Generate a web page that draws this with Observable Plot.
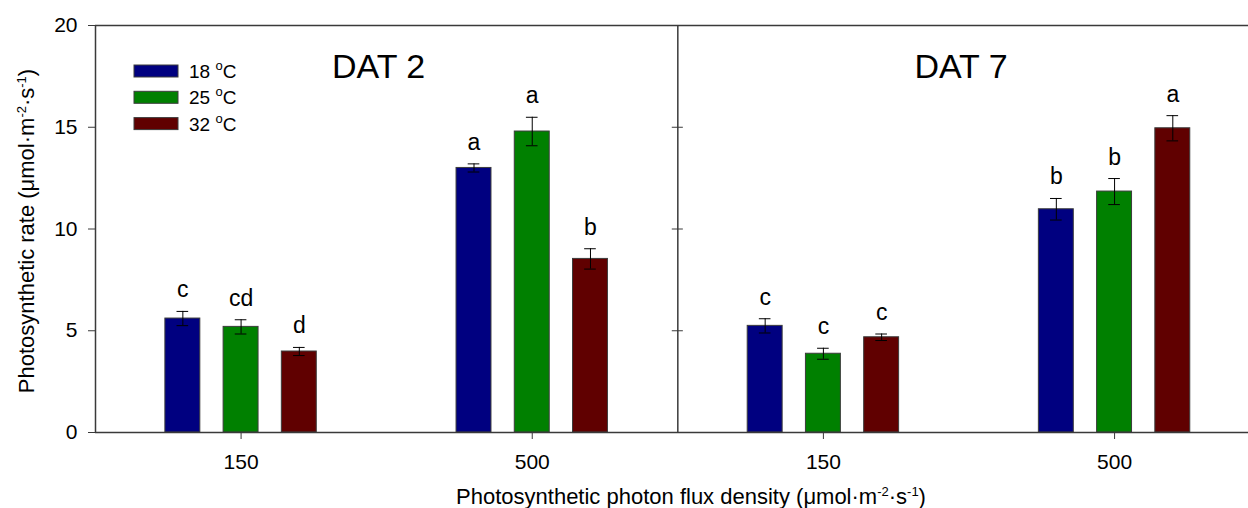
<!DOCTYPE html>
<html>
<head>
<meta charset="utf-8">
<script src="https://cdn.jsdelivr.net/npm/d3@7"></script>
<script src="https://cdn.jsdelivr.net/npm/@observablehq/plot@0.6"></script>
<style>
  html, body { margin: 0; padding: 0; background: #fff; }
  #chart { position: relative; width: 1248px; height: 508px; }
  svg { font-family: Arial, "Liberation Sans", sans-serif; }
</style>
</head>
<body>
<div id="chart"></div>
<script>
// ---- data ----
const dats = ["DAT 2", "DAT 7"];
const ppfd = ["150", "500"];
const temps = ["18", "25", "32"];
const colors = ["#000080", "#008000", "#600000"];
// groups in order: DAT2-150, DAT2-500, DAT7-150, DAT7-500
const means18 = [5.60, 13.00, 5.24, 10.97];
const means25 = [5.19, 14.79, 3.87, 11.84];
const means32 = [3.98, 8.53, 4.68, 14.95];
const se18 = [0.35, 0.20, 0.35, 0.53];
const se25 = [0.35, 0.70, 0.27, 0.64];
const se32 = [0.20, 0.50, 0.16, 0.62];
const letters18 = ["c", "a", "c", "b"];
const letters25 = ["cd", "a", "c", "b"];
const letters32 = ["d", "b", "c", "a"];
const yTicks = [0, 5, 10, 15, 20];

const meanSets = [means18, means25, means32];
const seSets = [se18, se25, se32];
const letterSets = [letters18, letters25, letters32];

const rows = [];
temps.forEach((t, ti) => {
  meanSets[ti].forEach((m, g) => {
    rows.push({temp: t, ti, g, mean: m, se: seSets[ti][g], letter: letterSets[ti][g]});
  });
});
const groups = d3.range(dats.length * ppfd.length);
const off = 0.2, half = 0.06, cap = 0.02;
const cx = d => d.g + (d.ti - 1) * off;
const axisColor = "#3a3a3a";

const plot = Plot.plot({
  width: 1248,
  height: 508,
  marginLeft: 95,
  marginRight: 0,
  marginTop: 25,
  marginBottom: 76,
  style: {fontFamily: "Arial, 'Liberation Sans', sans-serif", fontSize: "21px", color: "#000", background: "#fff", overflow: "visible"},
  x: {type: "linear", domain: [-0.5, groups.length - 0.54]},
  y: {domain: [0, 20]},
  marks: [
    Plot.rectY(rows, {x1: d => cx(d) - half, x2: d => cx(d) + half, y1: 0, y2: "mean",
      fill: d => colors[d.ti], stroke: "#3c3c3c", strokeWidth: 1}),
    Plot.ruleX(rows, {x: cx, y1: d => d.mean - d.se, y2: d => d.mean + d.se, stroke: "#000", strokeWidth: 1}),
    Plot.ruleY(rows, {y: d => d.mean + d.se, x1: d => cx(d) - cap, x2: d => cx(d) + cap, stroke: "#000", strokeWidth: 1}),
    Plot.ruleY(rows, {y: d => d.mean - d.se, x1: d => cx(d) - cap, x2: d => cx(d) + cap, stroke: "#000", strokeWidth: 1}),
    Plot.text(rows, {x: cx, y: d => d.mean + d.se, text: "letter", lineAnchor: "bottom", dy: -14, fontSize: 23, fill: "#000"}),
    Plot.text(dats, {x: (d, i) => i * ppfd.length + (ppfd.length - 1) / 2, frameAnchor: "top", lineAnchor: "bottom", dy: 52, dx: -8, text: d => d, fontSize: 34, fill: "#000"}),
    // frame lines
    Plot.ruleY([20], {stroke: axisColor, strokeWidth: 1.5}),
    Plot.ruleY([0], {stroke: axisColor, strokeWidth: 1.5}),
    Plot.ruleX([-0.5, ppfd.length - 0.5], {stroke: axisColor, strokeWidth: 1.5}),
    Plot.ruleY(yTicks.filter(v => v > 0 && v < 20), {x1: ppfd.length - 0.5 - 0.019, x2: ppfd.length - 0.5 + 0.019, stroke: axisColor, strokeWidth: 1}),
    Plot.axisY({ticks: yTicks, tickSize: 7, tickPadding: 11, label: null, stroke: axisColor, fontSize: 21}),
    Plot.axisX({ticks: groups, tickSize: 7, tickPadding: 15, label: null, tickFormat: g => ppfd[g % ppfd.length], stroke: axisColor, fontSize: 21})
  ]
});

document.getElementById("chart").appendChild(plot);

// ---- axis titles with superscripts, and legend ----
const svg = d3.select(plot);
function unitText(sel, prefix) {
  sel.append("tspan").text(prefix + "(μmol·m");
  sel.append("tspan").attr("font-size", 13).attr("dy", -8).text("-2");
  sel.append("tspan").attr("dy", 8).text("·s");
  sel.append("tspan").attr("font-size", 13).attr("dy", -8).text("-1");
  sel.append("tspan").attr("dy", 8).text(")");
}
const xt = svg.append("text").attr("x", 691).attr("y", 504).attr("text-anchor", "middle")
  .attr("font-size", 22).attr("fill", "#000");
unitText(xt, "Photosynthetic photon flux density ");
const yt = svg.append("text").attr("transform", "translate(34,231) rotate(-90)").attr("text-anchor", "middle")
  .attr("font-size", 22).attr("fill", "#000");
unitText(yt, "Photosynthetic rate ");

const leg = svg.append("g");
temps.forEach((t, i) => {
  const y0 = 65 + i * 26.3;
  leg.append("rect").attr("x", 134).attr("y", y0).attr("width", 44).attr("height", 12)
    .attr("fill", colors[i]).attr("stroke", "#3c3c3c").attr("stroke-width", 1);
  const tx = leg.append("text").attr("x", 189).attr("y", y0 + 13).attr("font-size", 19)
    .attr("fill", "#000").attr("text-anchor", "start");
  tx.append("tspan").text(t + " ");
  tx.append("tspan").attr("font-size", 13).attr("dy", -8).text("o");
  tx.append("tspan").attr("dy", 8).text("C");
});
</script>
</body>
</html>
